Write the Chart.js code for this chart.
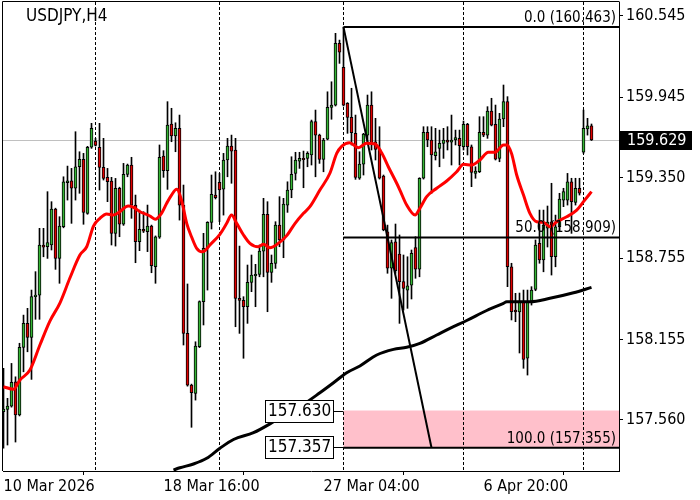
<!DOCTYPE html>
<html><head><meta charset="utf-8">
<script src="https://cdn.jsdelivr.net/npm/chart.js@4.4.1/dist/chart.umd.min.js"></script>
<style>html,body{margin:0;padding:0;background:#fff;}canvas{display:block;}</style>
</head><body><canvas id="c" width="700" height="500"></canvas>
<script>
const symbolTitle = 'USDJPY,H4';
const opens = [157.621,157.639,157.663,157.842,157.597,158.097,158.274,158.171,158.471,158.483,
158.853,158.840,158.853,159.119,158.754,158.988,159.313,159.328,159.272,159.431,
159.486,159.087,159.575,159.621,159.575,159.427,159.353,159.326,158.939,159.272,
159.006,159.375,159.444,159.148,158.877,158.969,158.951,158.993,158.693,158.910,
159.510,159.402,159.747,159.658,159.715,159.148,158.200,157.818,157.757,158.101,
158.434,158.833,159.020,159.222,159.316,159.266,159.481,159.584,159.555,158.459,
158.444,158.397,158.577,158.626,158.636,158.808,159.080,158.651,158.717,159.000,
158.890,159.148,159.259,159.382,159.473,159.493,159.493,159.518,159.764,159.665,
159.486,159.634,159.870,159.887,160.343,160.166,159.900,159.796,159.678,159.346,
159.451,159.665,159.887,159.616,159.560,159.363,158.951,158.681,158.877,158.786,
158.582,158.520,158.557,158.833,158.675,159.346,159.685,159.629,159.513,159.567,
159.604,159.629,159.612,159.629,159.641,159.579,159.745,159.579,159.382,159.394,
159.685,159.665,159.843,159.745,159.493,159.784,159.912,158.692,158.372,158.358,
158.432,158.016,158.434,158.525,158.865,158.742,158.978,159.025,158.766,158.988,
159.185,159.185,159.320,159.168,159.272,159.538,159.710,159.734];
const highs = [157.942,157.720,157.978,157.879,158.127,158.335,158.385,158.520,158.656,158.976,
158.976,159.247,159.173,159.125,159.062,159.357,159.436,159.419,159.690,159.542,
159.530,159.582,159.752,159.641,159.752,159.641,159.419,159.353,159.345,159.280,
159.456,159.451,159.501,159.222,159.111,159.099,159.148,159.000,158.920,159.592,
159.550,159.912,159.863,159.756,159.813,159.296,158.565,157.825,158.138,158.440,
158.939,159.025,159.370,159.394,159.382,159.530,159.641,159.665,159.641,158.845,
158.471,158.705,158.779,158.710,158.853,159.198,159.173,158.779,159.025,159.210,
159.198,159.320,159.505,159.538,159.538,159.547,159.542,159.776,159.850,159.672,
159.641,159.985,160.059,160.417,160.367,160.463,159.905,160.011,159.813,159.542,
159.678,159.961,159.985,159.789,159.727,159.370,159.000,158.890,159.008,158.927,
158.779,158.766,158.816,158.914,159.350,159.727,159.727,159.727,159.715,159.702,
159.715,159.727,159.813,159.702,159.702,159.769,159.752,159.592,159.431,159.801,
159.801,159.875,159.937,159.887,159.826,160.035,159.949,158.718,158.496,158.498,
158.520,158.520,158.545,158.890,159.111,159.111,159.141,159.309,159.074,159.235,
159.272,159.382,159.346,159.346,159.346,159.850,159.789,159.747];
const lows = [157.351,157.375,157.655,157.397,157.590,157.916,158.064,157.860,158.304,158.304,
158.766,158.754,158.816,158.673,158.570,158.980,159.185,159.013,159.185,159.235,
159.006,159.080,159.567,159.584,159.259,159.333,159.173,158.853,158.845,158.914,
158.998,159.357,159.050,158.722,158.811,158.945,158.804,158.648,158.570,158.902,
159.353,159.264,159.616,159.542,159.037,158.114,157.810,157.506,157.707,158.095,
158.262,158.520,158.971,159.193,159.025,159.074,159.357,159.309,158.249,158.200,
158.016,158.274,158.508,158.397,158.618,158.618,158.360,158.577,158.680,158.840,
158.759,159.094,159.202,159.333,159.419,159.276,159.431,159.444,159.357,159.456,
159.394,159.630,159.782,159.880,160.195,159.880,159.678,159.592,159.338,159.338,
159.370,159.604,159.555,159.481,159.340,158.958,158.644,158.459,158.644,158.274,
158.372,158.385,158.454,158.607,158.618,159.340,159.579,159.235,159.481,159.431,
159.493,159.555,159.444,159.592,159.444,159.555,159.518,159.284,159.346,159.388,
159.653,159.641,159.733,159.481,159.468,159.727,158.545,158.299,158.286,158.055,
157.942,157.892,158.409,158.515,158.718,158.655,158.838,158.631,158.692,158.951,
159.136,159.148,158.939,159.148,159.222,159.530,159.665,159.625];
const closes = [157.641,157.663,157.838,157.597,158.097,158.274,158.171,158.471,158.483,158.853,
158.836,158.870,159.119,158.754,158.993,159.320,159.328,159.272,159.431,159.486,
159.094,159.575,159.715,159.589,159.427,159.345,159.320,158.939,159.272,159.006,
159.375,159.444,159.148,158.877,158.969,158.955,158.993,158.700,158.914,159.501,
159.402,159.739,159.658,159.715,159.148,158.200,157.818,157.761,158.106,158.434,
158.828,159.020,159.227,159.202,159.259,159.481,159.584,159.547,158.459,158.444,
158.397,158.577,158.631,158.636,158.808,159.080,158.651,158.717,159.000,158.890,
159.156,159.259,159.375,159.481,159.493,159.484,159.530,159.764,159.665,159.486,
159.629,159.870,159.887,160.343,160.277,159.887,159.796,159.683,159.353,159.451,
159.673,159.887,159.609,159.560,159.346,158.964,158.681,158.870,158.663,158.582,
158.533,158.552,158.791,158.675,159.346,159.685,159.629,159.518,159.542,159.604,
159.629,159.612,159.629,159.646,159.587,159.745,159.579,159.390,159.400,159.685,
159.665,159.843,159.739,159.488,159.784,159.912,158.692,158.360,158.358,158.432,
158.008,158.434,158.520,158.853,158.742,159.000,159.023,158.766,158.988,159.193,
159.247,159.320,159.173,159.272,159.235,159.715,159.734,159.629];

const xTickIdx = [0, 40, 80, 120];
const xTickLabels = ['10 Mar 2026', '18 Mar 16:00', '27 Mar 04:00', '6 Apr 20:00'];
const yTicks = [160.545, 159.945, 159.350, 158.755, 158.155, 157.560];
const separatorIdx = [23, 54, 85, 115, 145];

const maFastIdx = [0,2.5,4.1,6.6,9.1,11.6,14.1,16.6,19.1,20.8,22.5,24.1,25.8,27.5,28.7,31.2,32.5,34.1,36.6,37.9,39.5,40.8,42,43.3,44.5,45.8,47,48.3,49.6,50.4,51.6,54.1,55.8,57,58.3,60,61.6,63.7,65,66.6,68.7,70.8,72.9,75,76.6,79.1,81.6,83.3,84.6,86.5,88.7,90.8,92.9,94.6,96.2,98.3,99.1,100.8,102.9,104.1,105.8,108.3,110.8,113.3,115,117,119.1,121.2,122.9,125,125.8,127,128.3,130,131.6,133.3,135,136.6,138.3,140.8,143.3,145,147];
const maFastVal = [157.806,157.787,157.855,157.929,158.114,158.291,158.424,158.609,158.779,158.840,158.993,159.050,159.082,159.074,159.091,159.141,159.131,159.099,159.067,159.043,159.087,159.161,159.222,159.264,159.185,159.013,158.914,158.828,158.803,158.812,158.853,158.932,159.013,159.074,159.013,158.927,158.865,158.840,158.858,158.833,158.865,158.922,159.013,159.087,159.136,159.259,159.383,159.530,159.584,159.609,159.572,159.604,159.599,159.530,159.431,159.309,159.259,159.148,159.074,159.124,159.210,159.272,159.326,159.394,159.449,159.444,159.481,159.538,159.538,159.592,159.592,159.530,159.370,159.222,159.087,159.025,159.020,158.988,159.025,159.062,159.111,159.173,159.247];
const maSlowIdx = [42.5,44.1,47.5,50.8,54.1,57.5,62.5,68.3,74.1,79.1,82.5,85.8,89.1,93.3,97.5,100.8,104.1,108.3,111.6,115.8,120.8,125,125.8,131.6,136.6,142.5,147];
const maSlowVal = [157.190,157.207,157.235,157.277,157.351,157.416,157.466,157.560,157.658,157.761,157.835,157.909,157.959,158.040,158.082,158.097,158.126,158.188,158.237,158.295,158.369,158.422,158.434,158.434,158.459,158.500,158.540];

const fibLabels = ['0.0', '50.0', '100.0'];
const fibPrices = [160.463, 158.909, 157.355];
const fibStartIdx = 85, fibEndIdx = 107;
const zoneTop = 157.630, zoneBottom = 157.357, zoneStartIdx = 85;
const lastPrice = 159.629;

const FONT = "'DejaVu Sans Condensed', 'Liberation Sans', sans-serif";
const GREEN = '#35b535', RED = '#e00000';
const X_MIN = -0.125, X_MAX = 153.875;
const Y_MAX = 160.6484, Y_MIN = 157.1831;

const idx = opens.map((_, i) => i);
const wickData = idx.map(i => ({x: i, y: [lows[i], highs[i]]}));
const bodyData = idx.map(i => ({x: i, y: [opens[i], closes[i]]}));
const bodyColors = idx.map(i => closes[i] >= opens[i] ? GREEN : RED);
const fibLineSets = fibPrices.map(p => ({
  type: 'line', data: [{x: fibStartIdx, y: p}, {x: X_MAX + 2, y: p}],
  borderColor: '#000', borderWidth: 2, pointRadius: 0, order: 0
}));

const fmt = v => v.toFixed(3);

const overlay = {
  id: 'overlay',
  beforeDatasetsDraw(chart) {
    const {ctx, chartArea: a, scales: {x, y}} = chart;
    ctx.save();
    ctx.beginPath(); ctx.rect(a.left, a.top, a.right - a.left, a.bottom - a.top); ctx.clip();
    const zx = x.getPixelForValue(zoneStartIdx);
    const zt = y.getPixelForValue(zoneTop), zb = y.getPixelForValue(zoneBottom);
    ctx.fillStyle = '#FFC0CB';
    ctx.fillRect(zx, zt, a.right - zx, zb - zt);
    const py = Math.round(y.getPixelForValue(lastPrice)) + 0.5;
    ctx.strokeStyle = '#C0C0C0'; ctx.lineWidth = 1;
    ctx.beginPath(); ctx.moveTo(a.left, py); ctx.lineTo(a.right, py); ctx.stroke();
    ctx.strokeStyle = '#000'; ctx.setLineDash([3, 2]);
    separatorIdx.forEach(i => {
      const sx = Math.floor(x.getPixelForValue(i)) + 0.5;
      ctx.beginPath(); ctx.moveTo(sx, a.top); ctx.lineTo(sx, a.bottom); ctx.stroke();
    });
    ctx.restore();
  },
  afterDatasetsDraw(chart) {
    const {ctx, chartArea: a, scales: {x, y}} = chart;
    ctx.save();
    ctx.fillStyle = '#000';
    ctx.font = '15px ' + FONT;
    ctx.textAlign = 'right'; ctx.textBaseline = 'alphabetic';
    fibPrices.forEach((p, k) => {
      const ly = y.getPixelForValue(p);
      ctx.fillText(fibLabels[k] + ' (' + fmt(p) + ')', a.right - 3, ly - 5);
    });
    // zone price boxes
    const zx = x.getPixelForValue(zoneStartIdx);
    [zoneTop, zoneBottom].forEach(p => {
      const ly = Math.round(y.getPixelForValue(p));
      ctx.fillStyle = '#fff';
      ctx.fillRect(266, ly - 10, 67, 21);
      ctx.strokeStyle = '#000'; ctx.lineWidth = 1;
      ctx.strokeRect(265.5, ly - 10.5, 68, 22);
      ctx.beginPath(); ctx.moveTo(333.5, ly + 0.5); ctx.lineTo(zx, ly + 0.5); ctx.stroke();
      ctx.fillStyle = '#000';
      ctx.font = '17px ' + FONT; ctx.textAlign = 'left'; ctx.textBaseline = 'middle';
      ctx.fillText(fmt(p), 268, ly + 1);
    });
    ctx.restore();
  },
  afterDraw(chart) {
    const {ctx, chartArea: a, scales: {y}} = chart;
    ctx.save();
    ctx.strokeStyle = '#000'; ctx.lineWidth = 1;
    ctx.beginPath();
    ctx.moveTo(2.5, a.bottom); ctx.lineTo(2.5, 1.5); ctx.lineTo(a.right + 0.5, 1.5);
    ctx.stroke();
    ctx.fillStyle = '#000';
    ctx.font = '17px ' + FONT; ctx.textAlign = 'left'; ctx.textBaseline = 'alphabetic';
    ctx.fillText(symbolTitle, 26, 21);
    const py = Math.round(y.getPixelForValue(lastPrice));
    ctx.fillRect(620, py - 9, 72, 19);
    ctx.fillStyle = '#fff';
    ctx.font = '16px ' + FONT; ctx.textBaseline = 'middle';
    ctx.fillText(fmt(lastPrice), 627, py + 1);
    ctx.restore();
  }
};

new Chart(document.getElementById('c'), {
  type: 'bar',
  data: {
    datasets: [
      {type: 'line', data: maFastIdx.map((v, i) => ({x: v, y: maFastVal[i]})), borderColor: '#ff0000', borderWidth: 3, pointRadius: 0, cubicInterpolationMode: 'monotone', order: 0},
      {type: 'line', data: maSlowIdx.map((v, i) => ({x: v, y: maSlowVal[i]})), borderColor: '#000', borderWidth: 3, pointRadius: 0, cubicInterpolationMode: 'monotone', order: 0},
      ...fibLineSets,
      {type: 'line', data: [{x: fibStartIdx, y: fibPrices[0]}, {x: fibEndIdx, y: fibPrices[2]}], borderColor: '#000', borderWidth: 2, pointRadius: 0, order: 0},
      {type: 'bar', data: bodyData, backgroundColor: bodyColors, borderColor: '#000', borderWidth: 1, borderSkipped: false, barThickness: 3, grouped: false, order: 1},
      {type: 'bar', data: wickData, backgroundColor: '#000', borderWidth: 0, barThickness: 1, grouped: false, order: 2}
    ]
  },
  options: {
    responsive: false, animation: false, devicePixelRatio: 1,
    layout: {padding: {left: 3, top: 2, right: 0, bottom: 0}},
    plugins: {legend: {display: false}, tooltip: {enabled: false}, title: {display: false}},
    scales: {
      x: {
        type: 'linear', min: X_MIN, max: X_MAX, offset: false, bounds: 'data',
        afterBuildTicks: s => { s.ticks = xTickIdx.map(v => ({value: v})); },
        afterFit: s => { s.height = 29; s.paddingLeft = 0; s.paddingRight = 0; },
        ticks: {autoSkip: false, maxRotation: 0, align: 'start', padding: 2, color: '#000',
          font: {family: FONT, size: 16},
          callback: v => { const k = xTickIdx.indexOf(v); return k >= 0 ? xTickLabels[k] : ''; }},
        grid: {display: true, drawOnChartArea: false, drawTicks: true, tickLength: 4, color: '#000'},
        border: {display: true, color: '#000', width: 1}
      },
      y: {
        type: 'linear', position: 'right', min: Y_MIN, max: Y_MAX, beginAtZero: false, bounds: 'data',
        afterBuildTicks: s => { s.ticks = yTicks.map(v => ({value: v})); },
        afterFit: s => { s.width = 81; s.paddingTop = 0; s.paddingBottom = 0; },
        ticks: {padding: 3, color: '#000', font: {family: FONT, size: 16}, callback: v => fmt(v)},
        grid: {display: true, drawOnChartArea: false, drawTicks: true, tickLength: 4, color: '#000'},
        border: {display: true, color: '#000', width: 1}
      }
    }
  },
  plugins: [overlay]
});
</script>
</body></html>
